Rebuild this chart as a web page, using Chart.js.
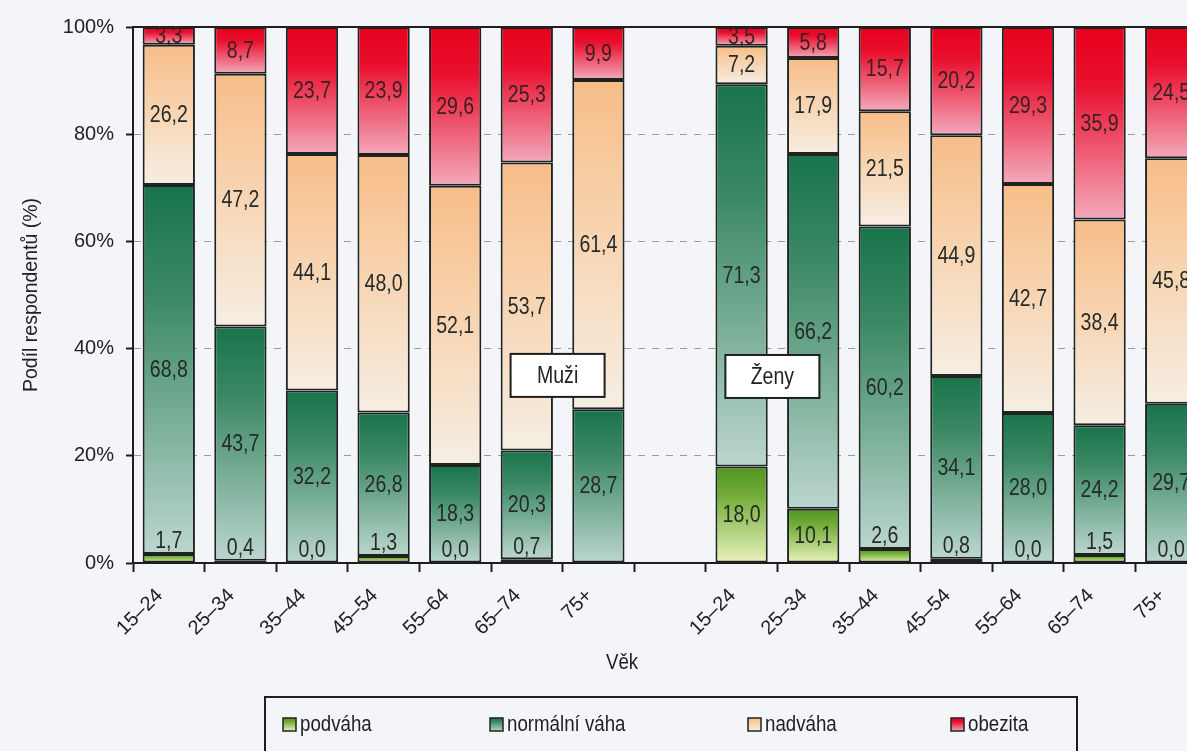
<!DOCTYPE html>
<html>
<head>
<meta charset="utf-8">
<script src="https://cdn.jsdelivr.net/npm/chart.js@4"></script>
<style>
html,body{margin:0;padding:0;overflow:hidden;background:#f3f5f9;width:1187px;height:751px;}
canvas{display:block;}
</style>
</head>
<body>
<canvas id="c" width="1212" height="751"></canvas>
<script>
// ---- data ----
const categories = ['15–24','25–34','35–44','45–54','55–64','65–74','75+','','15–24','25–34','35–44','45–54','55–64','65–74','75+'];
const podvaha   = [1.7, 0.4, 0.0, 1.3, 0.0, 0.7, null, null, 18.0, 10.1, 2.6, 0.8, 0.0, 1.5, 0.0];
const normalni  = [68.8, 43.7, 32.2, 26.8, 18.3, 20.3, 28.7, null, 71.3, 66.2, 60.2, 34.1, 28.0, 24.2, 29.7];
const nadvaha   = [26.2, 47.2, 44.1, 48.0, 52.1, 53.7, 61.4, null, 7.2, 17.9, 21.5, 44.9, 42.7, 38.4, 45.8];
const obezita   = [3.3, 8.7, 23.7, 23.9, 29.6, 25.3, 9.9, null, 3.5, 5.8, 15.7, 20.2, 29.3, 35.9, 24.5];
const seriesNames = ['podváha','normální váha','nadváha','obezita'];
const yTicks = [0, 20, 40, 60, 80, 100];
const groupNames = ['Muži','Ženy'];

// ---- styling ----
const palettes = [
  ['#4f9420','#72ad38','#eaf2bd'],
  ['#18744a','#3b8964','#bcd6cf'],
  ['#f6bd88','#f8cca2','#f6eee3'],
  ['#e6001c','#e9102e','#f3a9bb']
];
const FONT = "'Liberation Sans', Arial, sans-serif";

function makeGrad(c, top, bot, pal){
  const g = c.createLinearGradient(0, top, 0, bot);
  g.addColorStop(0, pal[0]); g.addColorStop(0.3, pal[1]); g.addColorStop(1, pal[2]);
  return g;
}
function segFill(d){
  return (ctx) => {
    const chart = ctx.chart;
    const pal = palettes[d];
    if (ctx.type !== 'data' || !chart.scales || !chart.scales.y) return pal[1];
    const i = ctx.dataIndex;
    let start = 0;
    for (let k = 0; k < d; k++) start += (chart.data.datasets[k].data[i] || 0);
    const v = chart.data.datasets[d].data[i] || 0;
    const y = chart.scales.y;
    const top = y.getPixelForValue(start + v), bot = y.getPixelForValue(start);
    if (!isFinite(top) || !isFinite(bot) || bot - top < 1) return pal[1];
    return makeGrad(chart.ctx, top, bot, pal);
  };
}
// condensed text (horizontal squeeze), as in the scanned original
function ctext(c, s, x, y, size, align, sx){
  c.save();
  c.translate(x, y);
  c.scale(sx || 0.85, 1);
  c.font = size + 'px ' + FONT;
  c.textAlign = align || 'center';
  c.textBaseline = 'middle';
  c.fillText(s, 0, 0);
  c.restore();
}

const seriesData = [podvaha, normalni, nadvaha, obezita];
const datasets = seriesData.map((arr, d) => ({
  label: seriesNames[d],
  data: arr,
  backgroundColor: segFill(d),
  borderColor: '#1e2320',
  borderWidth: 2,
  borderSkipped: false,
  barPercentage: 0.73,
  categoryPercentage: 1.0
}));

const decorPlugin = {
  id: 'decor',
  beforeDatasetsDraw(chart){
    const c = chart.ctx, a = chart.chartArea;
    c.save();
    c.strokeStyle = '#1e1e1e'; c.lineWidth = 2;
    c.beginPath(); c.moveTo(a.left, a.top); c.lineTo(a.right, a.top); c.stroke();
    c.restore();
  },
  afterDatasetsDraw(chart){
    const c = chart.ctx;
    const xs = chart.scales.x, ys = chart.scales.y;
    c.save();
    // value labels
    chart.data.datasets.forEach((ds, d) => {
      const meta = chart.getDatasetMeta(d);
      meta.data.forEach((el, i) => {
        const v = ds.data[i];
        if (v === null || v === undefined) return;
        const top = Math.min(el.y, el.base), bot = Math.max(el.y, el.base);
        let cy = (top + bot) / 2;
        if (d === 0 && bot - top < 20) cy = top - 13;
        c.fillStyle = d === 3 ? '#3a1f22' : '#262a28';
        ctext(c, v.toFixed(1).replace('.', ','), el.x, cy + 1, 23, 'center');
      });
    });
    // group boxes
    const boxes = [[5.43, 35], [8.43, 34.8]];
    boxes.forEach((b, k) => {
      const cx = xs.getPixelForValue(b[0]), cy = ys.getPixelForValue(b[1]);
      const w = 94, h = 43;
      c.fillStyle = '#ffffff';
      c.fillRect(cx - w/2, cy - h/2, w, h);
      c.strokeStyle = '#1e1e1e'; c.lineWidth = 2;
      c.strokeRect(cx - w/2, cy - h/2, w, h);
      c.fillStyle = '#222';
      ctext(c, groupNames[k], cx, cy + 1, 23, 'center');
    });
    // x axis title
    c.fillStyle = '#222';
    ctext(c, 'Věk', xs.getPixelForValue(6.33), 663, 22, 'center');
    // legend box
    c.strokeStyle = '#1e1e1e'; c.lineWidth = 2;
    c.strokeRect(265, 697, 812, 90);
    const lx = [283, 490, 748, 951];
    seriesNames.forEach((n, d) => {
      const x = lx[d], y = 718;
      c.fillStyle = makeGrad(c, y, y + 13, palettes[d]);
      c.fillRect(x, y, 13, 13);
      c.strokeStyle = '#222'; c.lineWidth = 1.5;
      c.strokeRect(x, y, 13, 13);
      c.fillStyle = '#1e1e1e';
      ctext(c, n, x + 17, y + 7, 22, 'left');
    });
    c.restore();
  }
};

new Chart(document.getElementById('c'), {
  type: 'bar',
  data: { labels: categories, datasets },
  options: {
    responsive: false,
    animation: false,
    events: [],
    layout: { padding: { top: 27, right: 5, left: 0, bottom: 0 } },
    plugins: { legend: { display: false }, tooltip: { enabled: false } },
    scales: {
      x: {
        stacked: true,
        afterFit: s => { s.height = 188; },
        grid: { display: true, drawOnChartArea: false, drawTicks: true, tickLength: 9, tickColor: '#1e1e1e', tickWidth: 2, offset: true },
        border: { display: true, color: '#1e1e1e', width: 2 },
        ticks: { color: '#222', font: { family: FONT, size: 20 }, minRotation: 45, maxRotation: 45, padding: 12, labelOffset: -9, autoSkip: false }
      },
      y: {
        stacked: true,
        min: 0, max: 100,
        afterFit: s => { s.width = 133; },
        afterBuildTicks: s => { s.ticks = yTicks.map(v => ({ value: v })); },
        grid: {
          color: c => (c.tick && (c.tick.value === 0 || c.tick.value === 100)) ? 'rgba(0,0,0,0)' : '#9a9c9e',
          lineWidth: 1,
          drawTicks: true, tickLength: 7, tickColor: '#1e1e1e', tickWidth: 2
        },
        border: { display: true, color: '#1e1e1e', width: 2, dash: [7, 7] },
        ticks: { color: '#222', font: { family: FONT, size: 20 }, padding: 12, callback: v => v + '%' },
        title: { display: true, text: 'Podíl respondentů (%)', color: '#222', font: { family: FONT, size: 19.5 }, padding: { top: 20, bottom: 0 } }
      }
    }
  },
  plugins: [decorPlugin]
});
</script>
</body>
</html>
